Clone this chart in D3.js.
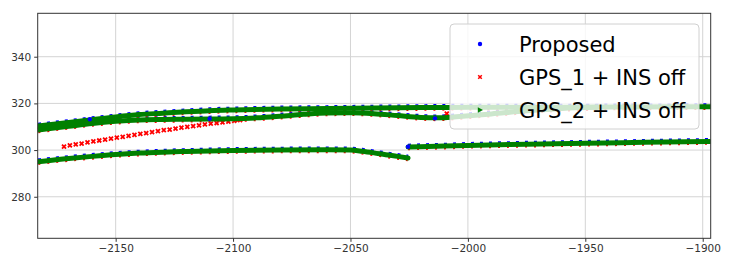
<!DOCTYPE html>
<html>
<head>
<meta charset="utf-8">
<script src="https://cdn.jsdelivr.net/npm/d3@7"></script>
<style>
  html, body { margin: 0; padding: 0; background: #fff; }
  svg { display: block; font-family: "DejaVu Sans", sans-serif; }
</style>
</head>
<body>
<div id="chart"></div>
<script>
const xTicks = [-2150, -2100, -2050, -2000, -1950, -1900];
const yTicks = [280, 300, 320, 340];

const seriesNames = ["Proposed", "GPS_1 + INS off", "GPS_2 + INS off"];

// lanes travelled by all three estimates ([x, y])
const laneOuter = [
  [-2183, 310.3], [-2170, 311.8], [-2160, 313.0], [-2150, 314.2], [-2140, 315.2],
  [-2130, 315.8], [-2120, 316.4], [-2110, 316.9], [-2100, 317.2], [-2080, 317.6],
  [-2060, 317.8], [-2040, 318.0], [-2020, 318.2], [-2000, 318.4], [-1960, 318.4],
  [-1930, 318.5], [-1897, 318.6]
];
const laneInner = [
  [-2183, 308.6], [-2170, 310.2], [-2160, 311.4], [-2150, 312.3], [-2140, 312.9],
  [-2130, 313.1], [-2120, 313.2], [-2110, 313.3], [-2100, 313.4], [-2090, 313.8],
  [-2080, 314.5], [-2070, 315.3], [-2060, 315.9], [-2050, 316.0], [-2040, 315.6],
  [-2030, 314.8], [-2020, 314.0], [-2012, 313.8], [-2005, 314.3], [-1990, 315.5],
  [-1975, 316.8], [-1960, 317.8], [-1945, 318.3]
];
const laneLower = [
  [-2183, 295.0], [-2170, 296.4], [-2160, 297.3], [-2150, 298.1], [-2140, 298.7],
  [-2130, 299.1], [-2120, 299.4], [-2100, 299.8], [-2080, 300.0], [-2060, 300.1],
  [-2050, 300.0], [-2045, 299.5], [-2040, 298.8], [-2035, 298.0], [-2030, 297.3],
  [-2025.5, 296.6]
];
const laneEast = [
  [-2025.5, 301.3], [-2010, 301.7], [-2000, 302.0], [-1975, 302.5], [-1950, 302.9],
  [-1925, 303.3], [-1897, 303.7]
];

// GPS_1 drift before it rejoins the inner lane
const gps1Drift = [
  [-2172, 301.5], [-2169.5, 302.0], [-2167, 302.4], [-2164.5, 302.8], [-2162, 303.3],
  [-2159.5, 303.7], [-2157, 304.1], [-2154.5, 304.5], [-2152, 304.9], [-2149.5, 305.3],
  [-2147, 305.7], [-2144.5, 306.1], [-2142, 306.5], [-2139.5, 306.9], [-2137, 307.3],
  [-2134.5, 307.7], [-2132, 308.1], [-2129.5, 308.5], [-2127, 308.8], [-2124.5, 309.2],
  [-2122, 309.6], [-2119.5, 309.9], [-2117, 310.3], [-2114.5, 310.6], [-2112, 311.0],
  [-2109.5, 311.3], [-2107, 311.6], [-2104.5, 311.9], [-2102, 312.2], [-2099.5, 312.5],
  [-2097, 312.8], [-2009, 315.6]
];
const proposedOutliers = [[-2161, 313.2], [-2110, 313.4], [-2014, 313.6], [-2025.5, 301.4]];

const lanes = [laneOuter, laneInner, laneLower, laneEast];

const width = 733, height = 272;
const margin = { top: 13.3, right: 22.3, bottom: 33.7, left: 37.7 };

const svg = d3.select("#chart").append("svg")
  .attr("width", width)
  .attr("height", height);

const x = d3.scaleLinear().domain([-2183.2, -1896.6]).range([margin.left, width - margin.right]);
const y = d3.scaleLinear().domain([262.2, 358.6]).range([height - margin.bottom, margin.top]);

const fmt = (d) => String(d).replace("-", "\u2212");

// grid
svg.append("g")
  .selectAll("line")
  .data(xTicks)
  .join("line")
  .attr("x1", (d) => x(d)).attr("x2", (d) => x(d))
  .attr("y1", y.range()[1]).attr("y2", y.range()[0])
  .attr("stroke", "#d4d4d4").attr("stroke-width", 1);
svg.append("g")
  .selectAll("line")
  .data(yTicks)
  .join("line")
  .attr("y1", (d) => y(d)).attr("y2", (d) => y(d))
  .attr("x1", x.range()[0]).attr("x2", x.range()[1])
  .attr("stroke", "#d4d4d4").attr("stroke-width", 1);

const plot = svg.append("g");
plot.append("clipPath").attr("id", "clip")
  .append("rect")
  .attr("x", x.range()[0]).attr("y", y.range()[1])
  .attr("width", x.range()[1] - x.range()[0])
  .attr("height", y.range()[0] - y.range()[1]);
const area = plot.append("g").attr("clip-path", "url(#clip)");

const line = d3.line()
  .x((d) => x(d[0]))
  .y((d) => y(d[1]))
  .curve(d3.curveMonotoneX);

// Proposed (blue), drawn first; only specks show above the green band
area.append("g")
  .attr("transform", "translate(0,-0.8)")
  .selectAll("path")
  .data(lanes)
  .join("path")
  .attr("d", line)
  .attr("fill", "none")
  .attr("stroke", "#0000ff")
  .attr("stroke-width", 5.2)
  .attr("stroke-dasharray", "3,6");

// GPS_1 (red), specks below
area.append("g")
  .attr("transform", "translate(0,0.7)")
  .selectAll("path")
  .data(lanes)
  .join("path")
  .attr("d", line)
  .attr("fill", "none")
  .attr("stroke", "#ff0000")
  .attr("stroke-width", 5.2)
  .attr("stroke-dasharray", "2,7");

const xMark = (g, s, w) => {
  g.append("path")
    .attr("d", `M${-s},${-s}L${s},${s}M${-s},${s}L${s},${-s}`)
    .attr("stroke", "#ff0000")
    .attr("stroke-width", w);
};

area.append("g")
  .selectAll("g")
  .data(gps1Drift)
  .join("g")
  .attr("transform", (d) => `translate(${x(d[0])},${y(d[1])})`)
  .each(function () { xMark(d3.select(this), 2, 1.8); });

// GPS_2 (green), on top
area.append("g")
  .selectAll("path")
  .data(lanes)
  .join("path")
  .attr("d", line)
  .attr("fill", "none")
  .attr("stroke", "#008000")
  .attr("stroke-width", 5)
  .attr("stroke-linecap", "round");

area.append("g")
  .selectAll("circle")
  .data(proposedOutliers)
  .join("circle")
  .attr("cx", (d) => x(d[0]))
  .attr("cy", (d) => y(d[1]))
  .attr("r", 2.2)
  .attr("fill", "#0000ff");

// axes
const xAxis = svg.append("g")
  .attr("transform", `translate(0,${y.range()[0]})`)
  .call(d3.axisBottom(x).tickValues(xTicks).tickFormat(fmt).tickSize(3.5).tickPadding(3));
const yAxis = svg.append("g")
  .attr("transform", `translate(${x.range()[0]},0)`)
  .call(d3.axisLeft(y).tickValues(yTicks).tickFormat(fmt).tickSize(3.5).tickPadding(3));
[xAxis, yAxis].forEach((a) => {
  a.select(".domain").remove();
  a.selectAll("line").attr("stroke", "#333");
  a.selectAll("text")
    .attr("fill", "#333")
    .style("font-family", "DejaVu Sans")
    .style("font-size", "10.5px");
});

svg.append("rect")
  .attr("x", x.range()[0]).attr("y", y.range()[1])
  .attr("width", x.range()[1] - x.range()[0])
  .attr("height", y.range()[0] - y.range()[1])
  .attr("fill", "none")
  .attr("stroke", "#333")
  .attr("stroke-width", 1);

// legend
const legend = svg.append("g").attr("transform", "translate(450,24)");
legend.append("rect")
  .attr("width", 249).attr("height", 105)
  .attr("rx", 4)
  .attr("fill", "#fff").attr("fill-opacity", 0.8)
  .attr("stroke", "#d0d0d0");

const items = legend.selectAll("g.item")
  .data(seriesNames)
  .join("g")
  .attr("class", "item")
  .attr("transform", (d, i) => `translate(30,${20 + i * 33})`);

items.each(function (d, i) {
  const g = d3.select(this);
  if (i === 0) {
    g.append("circle").attr("r", 2.2).attr("fill", "#0000ff");
  } else if (i === 1) {
    xMark(g, 1.8, 1.5);
  } else {
    g.append("path").attr("d", "M-2.2,-2.8L3,0L-2.2,2.8Z").attr("fill", "#008000");
  }
  g.append("text")
    .attr("x", 39)
    .attr("y", 8)
    .attr("fill", "#000")
    .style("font-size", "21px")
    .text(d);
});
</script>
</body>
</html>
